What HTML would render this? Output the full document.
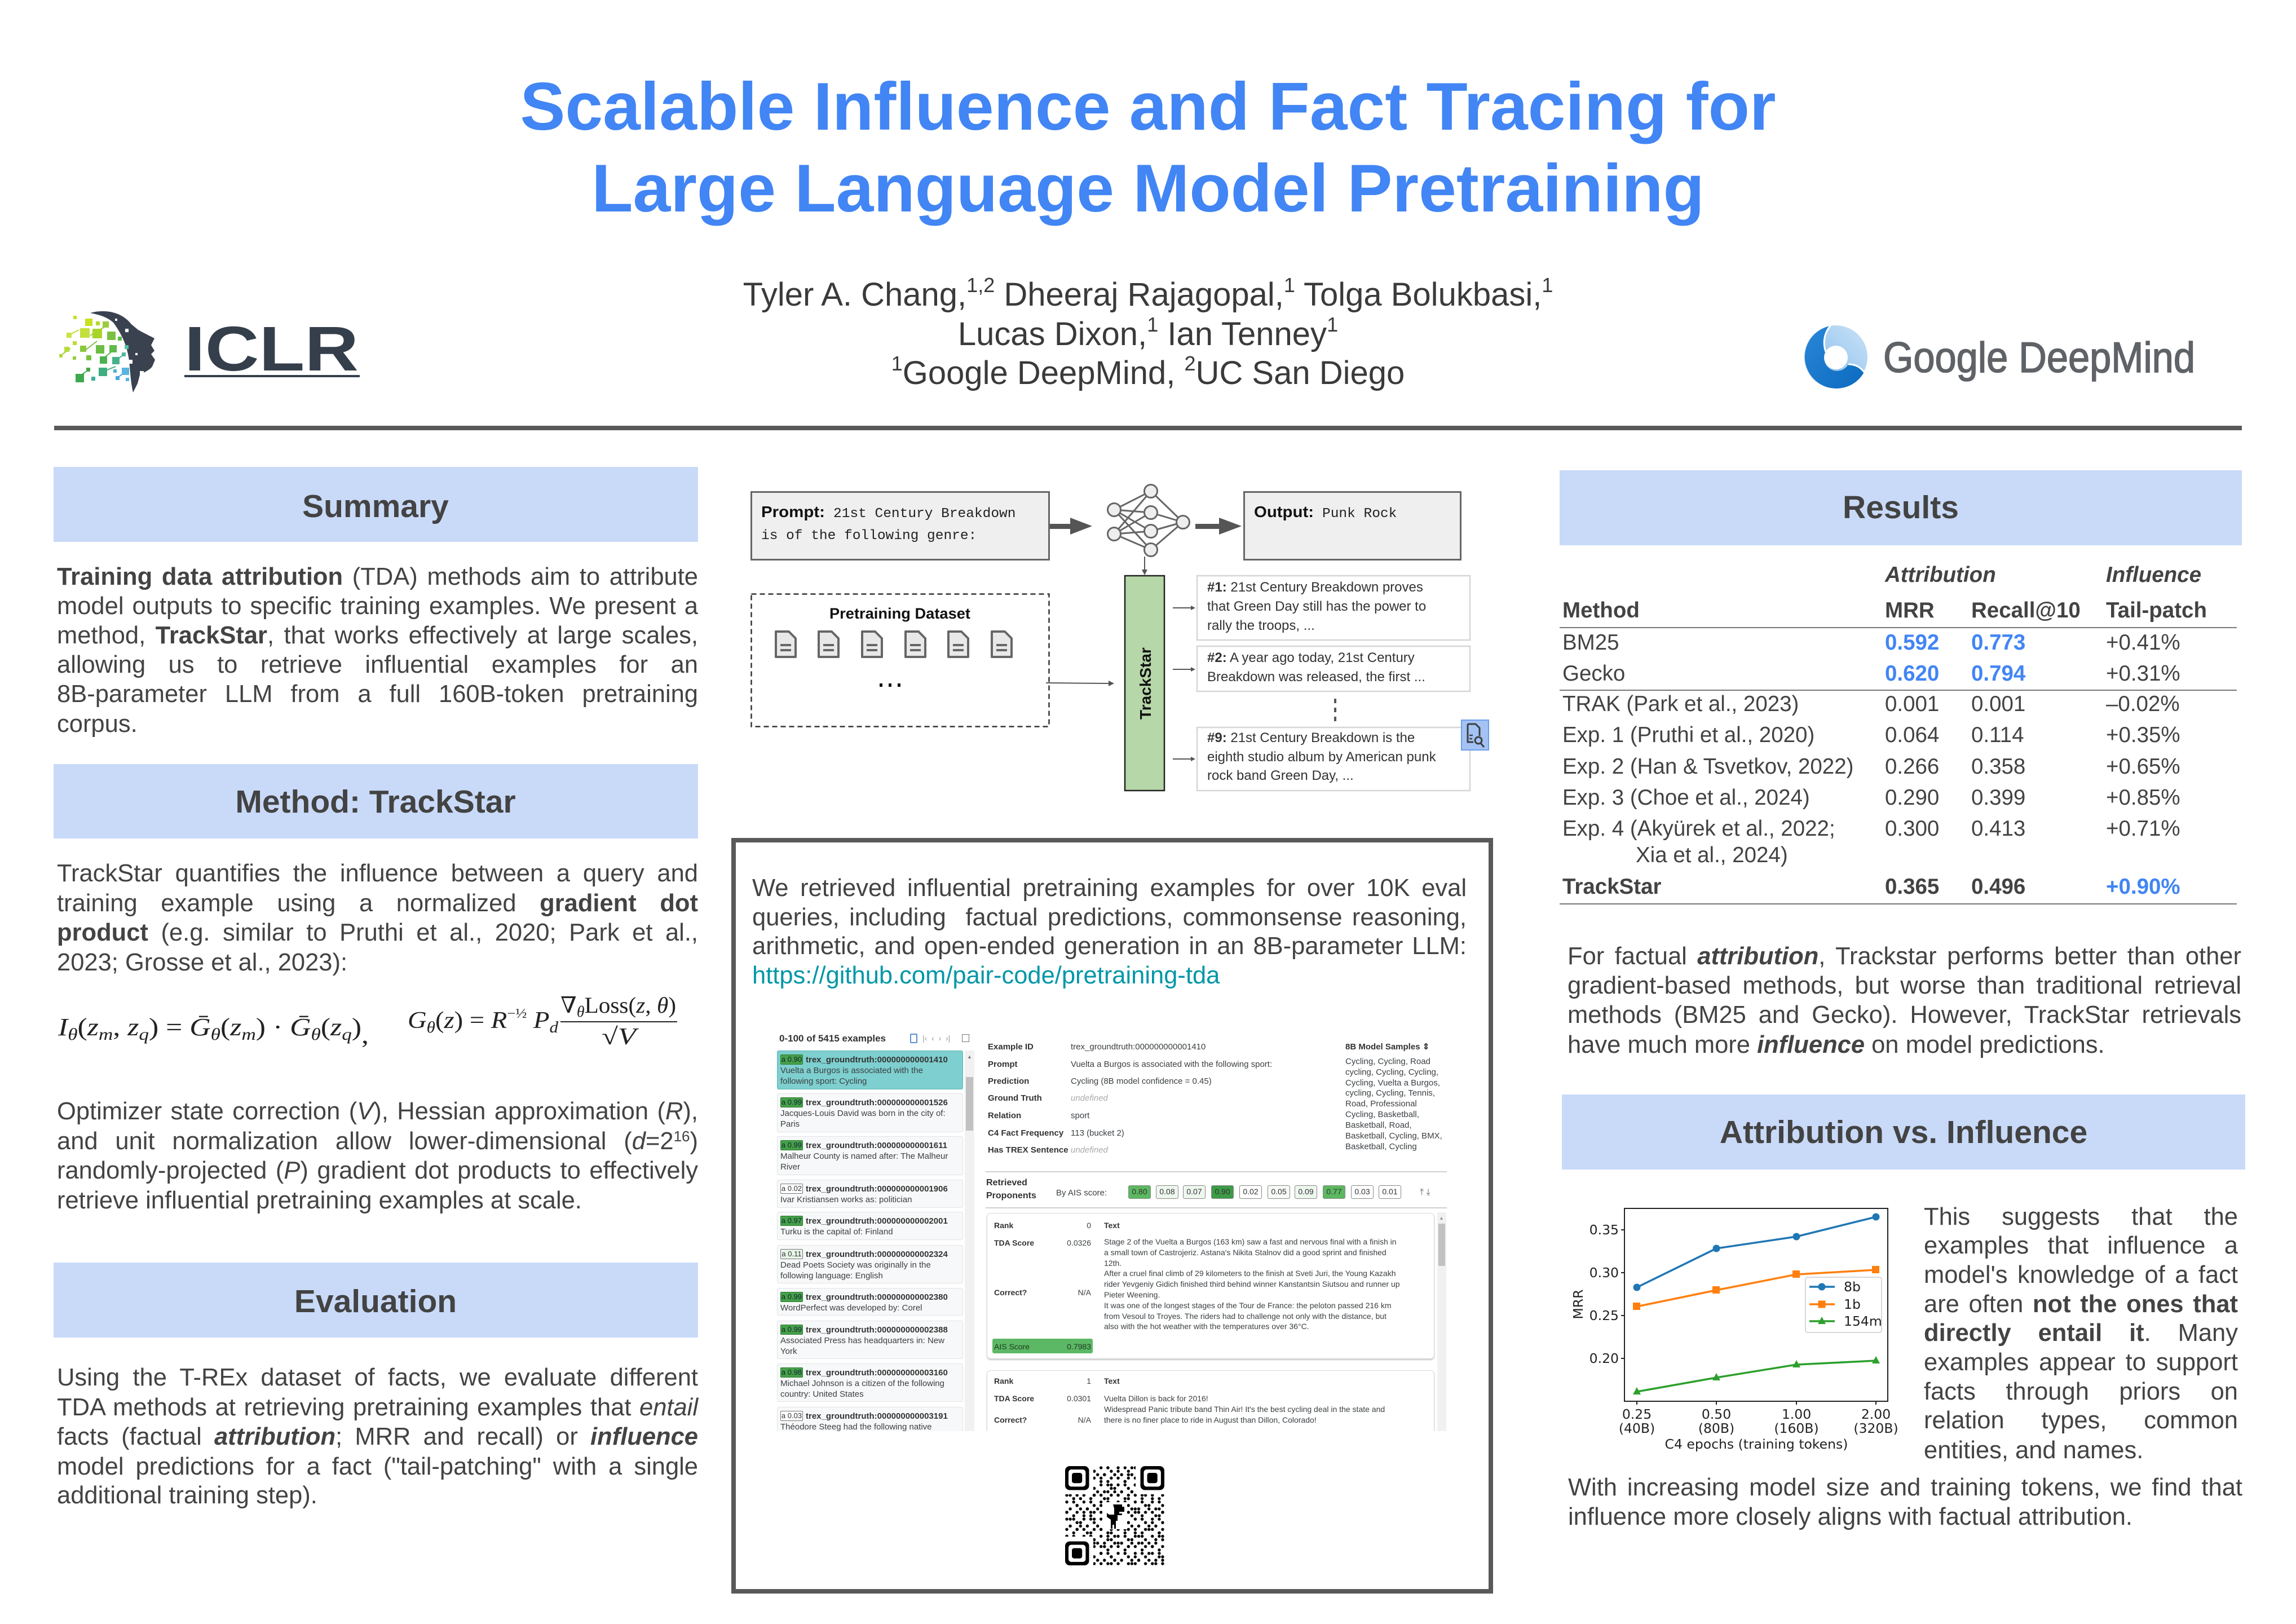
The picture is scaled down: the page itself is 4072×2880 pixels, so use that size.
<!DOCTYPE html>
<html><head><meta charset="utf-8"><title>Scalable Influence and Fact Tracing</title>
<style>
*{margin:0;padding:0;box-sizing:border-box}
html,body{width:4072px;height:2880px;background:#fff;overflow:hidden}
body{position:relative;font-family:"Liberation Sans",Arial,sans-serif;color:#434343}
svg.full{position:absolute;left:0;top:0}
.L{position:absolute;font-size:43.5px;line-height:43.5px;height:44px;text-align:justify;text-align-last:justify;color:#434343}
.N{text-align:left;text-align-last:left;white-space:nowrap}
.ss{position:absolute;left:1378px;top:1827px;width:1188px;height:711px;overflow:hidden;background:#fff;color:#3c4043;font-size:15px;line-height:15px}
.ss div{position:absolute;white-space:nowrap}
.it{left:0;width:330px;background:#f7f8f9;border:1.5px solid #e1e3e6;border-radius:3px}
.sel{background:#7ecfcf;border-color:#5ab5b5}
.ch{left:5px;top:6px;height:18px;width:40px;font-size:13px;line-height:16px;text-align:center;border:1px solid #777;border-radius:2px}
.g{background:#45a049;color:#123;border-color:#2f7d33}
.w{background:#fff;color:#333}
.lg{background:#e6f4e7;color:#333}
.ti{left:50px;top:8px;font-weight:bold;color:#333}
.tx{left:5px}
.lb{font-weight:bold;color:#333}
.card{background:#fff;border:1.5px solid #d5d7da;border-radius:7px;box-shadow:0 2px 2px #ccc}
.ct{font-size:14px;line-height:14px}
.chip{top:275px;width:40px;height:24px;border:1.5px solid #888;border-radius:3px;font-size:14px;line-height:21px;text-align:center;color:#333}
</style></head><body>

<svg class="full" width="4072" height="2880" viewBox="0 0 4072 2880" xmlns="http://www.w3.org/2000/svg">
<defs>
<linearGradient id="dmL" x1="0" y1="1" x2="1" y2="0"><stop offset="0" stop-color="#7fb6e8"/><stop offset="1" stop-color="#c9e3f8"/></linearGradient>
<linearGradient id="dmD" x1="0" y1="0" x2="1" y2="1"><stop offset="0" stop-color="#2a86d8"/><stop offset="1" stop-color="#0b6bbf"/></linearGradient>
<pattern id="qa" x="1889" y="2600" width="30.35" height="30.35" patternUnits="userSpaceOnUse">
<circle cx="3" cy="3" r="2.7"/><circle cx="15.2" cy="3" r="2.7"/><circle cx="21.2" cy="9.1" r="2.7"/><circle cx="9.1" cy="15.2" r="2.7"/><circle cx="27.3" cy="15.2" r="2.7"/><circle cx="3" cy="21.2" r="2.7"/><circle cx="21.2" cy="21.2" r="2.7"/><circle cx="15.2" cy="27.3" r="2.7"/>
</pattern>
<pattern id="qb" x="1889" y="2600" width="42.49" height="42.49" patternUnits="userSpaceOnUse">
<circle cx="9.1" cy="9.1" r="2.7"/><circle cx="33.4" cy="3" r="2.7"/><circle cx="21.2" cy="27.3" r="2.7"/><circle cx="39.4" cy="33.4" r="2.7"/><circle cx="3" cy="39.4" r="2.7"/><circle cx="27.3" cy="15.2" r="2.7"/>
</pattern>
</defs>

<!-- Title -->
<g font-family="Liberation Sans, Arial, sans-serif" font-weight="bold" font-size="120" fill="#4285f4" text-anchor="middle">
<text x="2036" y="230">Scalable Influence and Fact Tracing for</text>
<text x="2036" y="375">Large Language Model Pretraining</text>
</g>

<!-- Authors -->
<g font-family="Liberation Sans, Arial, sans-serif" font-size="58" fill="#3a3a3a" text-anchor="middle">
<text x="2036" y="542">Tyler A. Chang,<tspan dy="-24" font-size="36">1,2</tspan><tspan dy="24"> Dheeraj Rajagopal,</tspan><tspan dy="-24" font-size="36">1</tspan><tspan dy="24"> Tolga Bolukbasi,</tspan><tspan dy="-24" font-size="36">1</tspan></text>
<text x="2036" y="612">Lucas Dixon,<tspan dy="-24" font-size="36">1</tspan><tspan dy="24"> Ian Tenney</tspan><tspan dy="-24" font-size="36">1</tspan></text>
<text x="2036" y="681"><tspan dy="-24" font-size="36">1</tspan><tspan dy="24">Google DeepMind, </tspan><tspan dy="-24" font-size="36">2</tspan><tspan dy="24">UC San Diego</tspan></text>
</g>

<!-- ICLR logo -->
<path d="M160,555 C185,548 215,552 233,575 L245,585 C258,592 268,597 274,600 L268,612 L274,622 L268,628 L275,638 L270,650 C265,657 255,660 248,665 L244,680 L236,696 C232,680 231,660 229,640 C226,615 217,594 201,572 C190,562 175,558 160,555 Z" fill="#3a4250"/>
<g fill="#fff"><rect x="204" y="565" width="4" height="4"/><rect x="222" y="583" width="6" height="6"/><rect x="240" y="626" width="4" height="4"/><rect x="228" y="638" width="7" height="7"/><rect x="248" y="658" width="7" height="7"/></g>
<g stroke-width="2">
<line x1="118" y1="596" x2="140" y2="585" stroke="#bcdc2e"/><line x1="160" y1="595" x2="185" y2="580" stroke="#9ccc3c"/>
<line x1="108" y1="630" x2="125" y2="618" stroke="#a6d23a"/><line x1="150" y1="622" x2="172" y2="605" stroke="#7cc043"/>
<line x1="180" y1="638" x2="200" y2="622" stroke="#5cb848"/><line x1="205" y1="640" x2="220" y2="628" stroke="#4fb58a"/>
<line x1="140" y1="668" x2="158" y2="655" stroke="#3da94f"/><line x1="180" y1="660" x2="205" y2="650" stroke="#3fae7f"/><line x1="208" y1="670" x2="222" y2="660" stroke="#4aa6dc"/>
</g>
<g>
<rect x="130" y="560" width="6" height="6" fill="#c4de2e"/><rect x="151" y="565" width="13" height="13" fill="#c8e020"/>
<rect x="170" y="570" width="7" height="7" fill="#b4d82a"/><rect x="182" y="570" width="11" height="11" fill="#9ccc3c"/>
<rect x="142" y="582" width="17" height="17" fill="#c2e03a"/><rect x="164" y="583" width="17" height="17" fill="#a8d42a"/>
<rect x="190" y="588" width="15" height="15" fill="#7cc043"/><rect x="118" y="590" width="9" height="9" fill="#c9e43c"/>
<rect x="209" y="597" width="7" height="7" fill="#5cb848"/><rect x="129" y="605" width="7" height="7" fill="#bcdc3a"/>
<rect x="142" y="613" width="11" height="11" fill="#8cc63f"/><rect x="170" y="612" width="15" height="15" fill="#6bbd45"/>
<rect x="194" y="612" width="13" height="13" fill="#5fb94a"/><rect x="221" y="612" width="7" height="7" fill="#56c0a0"/>
<rect x="114" y="615" width="9" height="9" fill="#b6db3c"/><rect x="105" y="628" width="6" height="6" fill="#b0d83a"/>
<rect x="153" y="630" width="9" height="9" fill="#7cc242"/><rect x="177" y="632" width="13" height="13" fill="#4caf50"/>
<rect x="199" y="633" width="13" height="13" fill="#45b28a"/><rect x="216" y="625" width="7" height="7" fill="#52b6a4"/>
<rect x="129" y="632" width="6" height="6" fill="#98cc3e"/><rect x="153" y="652" width="7" height="7" fill="#4aa84a"/>
<rect x="134" y="663" width="15" height="15" fill="#3da94f"/><rect x="175" y="652" width="15" height="15" fill="#3fae7f"/>
<rect x="201" y="655" width="6" height="6" fill="#4fb3c9"/><rect x="216" y="652" width="13" height="13" fill="#5ab4e0"/>
<rect x="162" y="668" width="7" height="7" fill="#3ab09b"/><rect x="205" y="667" width="7" height="7" fill="#4aa6dc"/>
<rect x="223" y="670" width="6" height="6" fill="#5ab4e0"/>
</g>
<text x="327" y="657" font-family="Liberation Sans, Arial, sans-serif" font-weight="bold" font-size="112" fill="#353f4c" textLength="309" lengthAdjust="spacingAndGlyphs">ICLR</text>
<rect x="327" y="665" width="311" height="4" fill="#353f4c"/>

<!-- DeepMind logo -->
<circle cx="3256" cy="633" r="56" fill="url(#dmL)"/>
<path d="M3246,578 A56,56 0 1,0 3306,660 C3300,652 3292,646 3278,646 A21,21 0 0,1 3238,624 C3232,606 3236,590 3246,578 Z" fill="url(#dmD)"/>
<circle cx="3256" cy="634" r="21" fill="#fff"/>
<path d="M3246,578 C3236,590 3232,606 3238,624" stroke="#fff" stroke-width="3" fill="none"/>
<path d="M3278,646 C3292,646 3300,652 3306,660" stroke="#fff" stroke-width="3" fill="none"/>
<text x="3340" y="660" font-family="Liberation Sans, Arial, sans-serif" font-size="76" fill="#5f6266" stroke="#5f6266" stroke-width="1.6" textLength="553" lengthAdjust="spacingAndGlyphs">Google DeepMind</text>

<!-- rule -->
<rect x="96" y="755" width="3880" height="8" fill="#595959"/>

<!-- section header boxes -->
<g fill="#c9daf8">
<rect x="95" y="828" width="1143" height="133"/>
<rect x="95" y="1355" width="1143" height="132"/>
<rect x="95" y="2239" width="1143" height="133"/>
<rect x="2766" y="834" width="1210" height="133"/>
<rect x="2770" y="1941" width="1212" height="133"/>
</g>
<g font-family="Liberation Sans, Arial, sans-serif" font-weight="bold" font-size="57" fill="#434343" text-anchor="middle">
<text x="666" y="917">Summary</text>
<text x="666" y="1441">Method: TrackStar</text>
<text x="666" y="2327">Evaluation</text>
<text x="3371" y="919">Results</text>
<text x="3376" y="2027">Attribution vs. Influence</text>
</g>

<!-- Equations -->
<g font-family="Liberation Serif, DejaVu Serif, serif" fill="#222">
<text x="103" y="1836" font-size="44" font-style="italic" textLength="551" lengthAdjust="spacingAndGlyphs">I<tspan font-size="30" dy="8">θ</tspan><tspan dy="-8" font-style="normal">(</tspan>z<tspan font-size="30" dy="8">m</tspan><tspan dy="-8" font-style="normal">, </tspan>z<tspan font-size="30" dy="8">q</tspan><tspan dy="-8" font-style="normal">) = </tspan>Ḡ<tspan font-size="30" dy="8">θ</tspan><tspan dy="-8" font-style="normal">(</tspan>z<tspan font-size="30" dy="8">m</tspan><tspan dy="-8" font-style="normal">) · </tspan>Ḡ<tspan font-size="30" dy="8">θ</tspan><tspan dy="-8" font-style="normal">(</tspan>z<tspan font-size="30" dy="8">q</tspan><tspan dy="-8" font-style="normal">)</tspan><tspan font-style="normal" dy="14">,</tspan></text>
<text x="723" y="1823" font-size="42" font-style="italic" textLength="267" lengthAdjust="spacingAndGlyphs">G<tspan font-size="28" dy="8">θ</tspan><tspan dy="-8" font-style="normal">(</tspan>z<tspan font-style="normal">) = </tspan>R<tspan font-size="24" dy="-18" font-style="normal">−½</tspan><tspan dy="18"> P</tspan><tspan font-size="28" dy="8">d</tspan></text>
<text x="994" y="1796" font-size="40" textLength="205" lengthAdjust="spacingAndGlyphs">∇<tspan font-size="27" dy="7" font-style="italic">θ</tspan><tspan dy="-7">Loss(</tspan><tspan font-style="italic">z</tspan>, <tspan font-style="italic">θ</tspan>)</text>
<line x1="994" y1="1812" x2="1201" y2="1812" stroke="#222" stroke-width="2"/>
<text x="1067" y="1852" font-size="42" textLength="61" lengthAdjust="spacingAndGlyphs">√<tspan font-style="italic">V</tspan></text>
</g>

<!-- Diagram -->
<rect x="1332.5" y="872.5" width="528" height="120" fill="#efefef" stroke="#666" stroke-width="3"/>
<rect x="2206.5" y="872.5" width="384" height="120" fill="#efefef" stroke="#666" stroke-width="3"/>
<text x="1350" y="917" font-family="Liberation Sans, Arial, sans-serif" font-weight="bold" font-size="28" fill="#111" textLength="113" lengthAdjust="spacingAndGlyphs">Prompt:</text>
<text x="2224" y="917" font-family="Liberation Sans, Arial, sans-serif" font-weight="bold" font-size="28" fill="#111" textLength="106" lengthAdjust="spacingAndGlyphs">Output:</text>
<g font-family="Liberation Mono, monospace" font-size="24.5" fill="#222">
<text x="1478" y="917">21st Century Breakdown</text>
<text x="1350" y="956">is of the following genre:</text>
<text x="2345" y="917">Punk Rock</text>
</g>
<g fill="#555">
<rect x="1862" y="929" width="38" height="9"/><polygon points="1898,918 1937,933 1898,948"/>
<rect x="2120" y="929" width="44" height="9"/><polygon points="2162,918 2202,933 2162,948"/>
</g>
<g stroke="#666" stroke-width="3">
<line x1="1976" y1="904" x2="2041" y2="871"/><line x1="1976" y1="904" x2="2041" y2="909"/><line x1="1976" y1="904" x2="2041" y2="942"/><line x1="1976" y1="904" x2="2041" y2="975"/>
<line x1="1976" y1="947" x2="2041" y2="871"/><line x1="1976" y1="947" x2="2041" y2="909"/><line x1="1976" y1="947" x2="2041" y2="942"/><line x1="1976" y1="947" x2="2041" y2="975"/>
<line x1="2041" y1="871" x2="2098" y2="926"/><line x1="2041" y1="909" x2="2098" y2="926"/><line x1="2041" y1="942" x2="2098" y2="926"/><line x1="2041" y1="975" x2="2098" y2="926"/>
</g>
<g fill="#eee" stroke="#666" stroke-width="3">
<circle cx="1976" cy="904" r="11.5"/><circle cx="1976" cy="947" r="11.5"/>
<circle cx="2041" cy="871" r="11.5"/><circle cx="2041" cy="909" r="11.5"/><circle cx="2041" cy="942" r="11.5"/><circle cx="2041" cy="975" r="11.5"/>
<circle cx="2098" cy="926" r="11.5"/>
</g>
<line x1="2030" y1="987" x2="2030" y2="1012" stroke="#555" stroke-width="2"/><polygon points="2025,1010 2035,1010 2030,1020" fill="#555"/>
<rect x="1995" y="1021" width="70" height="381" fill="#b6d7a8" stroke="#222" stroke-width="2.5"/>
<text transform="translate(2041,1212) rotate(-90)" text-anchor="middle" font-family="Liberation Sans, Arial, sans-serif" font-weight="bold" font-size="28" fill="#111">TrackStar</text>
<rect x="1332.5" y="1053.5" width="528" height="235" fill="none" stroke="#333" stroke-width="2.5" stroke-dasharray="9 6"/>
<text x="1471" y="1097" font-family="Liberation Sans, Arial, sans-serif" font-weight="bold" font-size="27" fill="#111" textLength="250" lengthAdjust="spacingAndGlyphs">Pretraining Dataset</text>
<g fill="#e8e8e8" stroke="#666" stroke-width="4" stroke-linejoin="round">
<path d="M1376,1120 h23 l12,12 v33 h-35 z"/><path d="M1452,1120 h23 l12,12 v33 h-35 z"/><path d="M1529,1120 h23 l12,12 v33 h-35 z"/>
<path d="M1606,1120 h23 l12,12 v33 h-35 z"/><path d="M1682,1120 h23 l12,12 v33 h-35 z"/><path d="M1759,1120 h23 l12,12 v33 h-35 z"/>
</g>
<g fill="#666">
<rect x="1384" y="1142" width="19" height="4"/><rect x="1384" y="1151" width="19" height="4"/>
<rect x="1460" y="1142" width="19" height="4"/><rect x="1460" y="1151" width="19" height="4"/>
<rect x="1537" y="1142" width="19" height="4"/><rect x="1537" y="1151" width="19" height="4"/>
<rect x="1614" y="1142" width="19" height="4"/><rect x="1614" y="1151" width="19" height="4"/>
<rect x="1690" y="1142" width="19" height="4"/><rect x="1690" y="1151" width="19" height="4"/>
<rect x="1767" y="1142" width="19" height="4"/><rect x="1767" y="1151" width="19" height="4"/>
<rect x="1560" y="1212" width="5" height="6" fill="#111"/><rect x="1576" y="1212" width="5" height="6" fill="#111"/><rect x="1592" y="1212" width="5" height="6" fill="#111"/>
</g>
<line x1="1855" y1="1211" x2="1968" y2="1212" stroke="#555" stroke-width="2"/><polygon points="1966,1207 1976,1212 1966,1217" fill="#555"/>
<g fill="#fff" stroke="#d6d6d6" stroke-width="2.5">
<rect x="2123" y="1021" width="484" height="114"/>
<rect x="2123" y="1146" width="484" height="80"/>
<rect x="2123" y="1290" width="484" height="112"/>
</g>
<g font-family="Liberation Sans, Arial, sans-serif" font-size="24" fill="#333">
<text x="2141" y="1049"><tspan font-weight="bold">#1:</tspan> 21st Century Breakdown proves</text>
<text x="2141" y="1083">that Green Day still has the power to</text>
<text x="2141" y="1117">rally the troops, ...</text>
<text x="2141" y="1174"><tspan font-weight="bold">#2:</tspan> A year ago today, 21st Century</text>
<text x="2141" y="1208">Breakdown was released, the first ...</text>
<text x="2141" y="1316"><tspan font-weight="bold">#9:</tspan> 21st Century Breakdown is the</text>
<text x="2141" y="1350">eighth studio album by American punk</text>
<text x="2141" y="1383">rock band Green Day, ...</text>
</g>
<g stroke="#555" stroke-width="2">
<line x1="2080" y1="1078" x2="2114" y2="1078"/><line x1="2080" y1="1187" x2="2114" y2="1187"/><line x1="2080" y1="1346" x2="2114" y2="1346"/>
</g>
<g fill="#555">
<polygon points="2112,1074 2120,1078 2112,1082"/><polygon points="2112,1183 2120,1187 2112,1191"/><polygon points="2112,1342 2120,1346 2112,1350"/>
<rect x="2366" y="1239" width="4" height="8"/><rect x="2366" y="1255" width="4" height="8"/><rect x="2366" y="1271" width="4" height="8"/>
</g>
<rect x="2592" y="1277" width="48" height="53" fill="#a4c2f4" stroke="#6d9eeb" stroke-width="2"/>
<path d="M2603,1284 h14 l7,7 v14 M2603,1284 v32 h10" stroke="#3c4043" stroke-width="3" fill="none"/>
<path d="M2606,1304 h6 M2606,1310 h5" stroke="#3c4043" stroke-width="2.5"/>
<circle cx="2622" cy="1313" r="6" fill="none" stroke="#3c4043" stroke-width="3"/><line x1="2626" y1="1318" x2="2632" y2="1325" stroke="#3c4043" stroke-width="3"/>

<!-- middle box -->
<rect x="1301" y="1490" width="1343" height="1332" fill="none" stroke="#595959" stroke-width="8"/>

<!-- QR -->
<rect x="1889" y="2600" width="176" height="176" fill="url(#qa)"/>
<rect x="1889" y="2600" width="176" height="176" fill="url(#qb)"/>
<g fill="#fff"><rect x="1887" y="2598" width="52" height="52"/><rect x="2014" y="2598" width="53" height="52"/><rect x="1887" y="2725" width="52" height="53"/><rect x="1955" y="2664" width="44" height="48"/></g>
<g>
<rect x="1889" y="2600" width="42.5" height="42.5" rx="8"/><rect x="1895" y="2606" width="30.4" height="30.4" rx="5" fill="#fff"/><rect x="1901" y="2612" width="18.2" height="18.2" rx="4"/>
<rect x="2022.5" y="2600" width="42.5" height="42.5" rx="8"/><rect x="2028.5" y="2606" width="30.4" height="30.4" rx="5" fill="#fff"/><rect x="2034.5" y="2612" width="18.2" height="18.2" rx="4"/>
<rect x="1889" y="2733.5" width="42.5" height="42.5" rx="8"/><rect x="1895" y="2739.5" width="30.4" height="30.4" rx="5" fill="#fff"/><rect x="1901" y="2745.5" width="18.2" height="18.2" rx="4"/>
<path d="M1974,2668 h16 v4 h4 v9 h-9 v3 h5 v3 h-8 v10 h-3 v14 h-3 v-7 h-3 v7 h-3 v-16 l-7,-5 v-7 l4,3 h9 v-11 z"/>
</g>

<!-- Results table -->
<g font-family="Liberation Sans, Arial, sans-serif" font-size="38.5" fill="#434343">
<text x="3343" y="1032" font-weight="bold" font-style="italic">Attribution</text>
<text x="3735" y="1032" font-weight="bold" font-style="italic">Influence</text>
<g font-weight="bold"><text x="2771" y="1095">Method</text><text x="3343" y="1095">MRR</text><text x="3496" y="1095">Recall@10</text><text x="3735" y="1095">Tail-patch</text></g>
<text x="2771" y="1152">BM25</text><text x="3343" y="1152" fill="#4285f4" font-weight="bold">0.592</text><text x="3496" y="1152" fill="#4285f4" font-weight="bold">0.773</text><text x="3735" y="1152">+0.41%</text>
<text x="2771" y="1207">Gecko</text><text x="3343" y="1207" fill="#4285f4" font-weight="bold">0.620</text><text x="3496" y="1207" fill="#4285f4" font-weight="bold">0.794</text><text x="3735" y="1207">+0.31%</text>
<text x="2771" y="1261">TRAK (Park et al., 2023)</text><text x="3343" y="1261">0.001</text><text x="3496" y="1261">0.001</text><text x="3735" y="1261">–0.02%</text>
<text x="2771" y="1316">Exp. 1 (Pruthi et al., 2020)</text><text x="3343" y="1316">0.064</text><text x="3496" y="1316">0.114</text><text x="3735" y="1316">+0.35%</text>
<text x="2771" y="1372">Exp. 2 (Han &amp; Tsvetkov, 2022)</text><text x="3343" y="1372">0.266</text><text x="3496" y="1372">0.358</text><text x="3735" y="1372">+0.65%</text>
<text x="2771" y="1427">Exp. 3 (Choe et al., 2024)</text><text x="3343" y="1427">0.290</text><text x="3496" y="1427">0.399</text><text x="3735" y="1427">+0.85%</text>
<text x="2771" y="1482">Exp. 4 (Akyürek et al., 2022;</text><text x="3343" y="1482">0.300</text><text x="3496" y="1482">0.413</text><text x="3735" y="1482">+0.71%</text>
<text x="2901" y="1529">Xia et al., 2024)</text>
<g font-weight="bold"><text x="2771" y="1585">TrackStar</text><text x="3343" y="1585">0.365</text><text x="3496" y="1585">0.496</text><text x="3735" y="1585" fill="#4285f4">+0.90%</text></g>
</g>
<g fill="#777"><rect x="2766" y="1112" width="1201" height="2"/><rect x="2766" y="1223" width="1201" height="2"/><rect x="2766" y="1602" width="1201" height="2"/></g>

<!-- Chart -->
<g font-family="DejaVu Sans, Liberation Sans, sans-serif" font-size="23.5" fill="#222">
<rect x="2881" y="2143" width="467" height="342" fill="none" stroke="#222" stroke-width="2"/>
<g stroke="#222" stroke-width="2">
<line x1="2875" y1="2181" x2="2881" y2="2181"/><line x1="2875" y1="2257" x2="2881" y2="2257"/><line x1="2875" y1="2333" x2="2881" y2="2333"/><line x1="2875" y1="2409" x2="2881" y2="2409"/>
<line x1="2903" y1="2485" x2="2903" y2="2491"/><line x1="3044" y1="2485" x2="3044" y2="2491"/><line x1="3186" y1="2485" x2="3186" y2="2491"/><line x1="3327" y1="2485" x2="3327" y2="2491"/>
</g>
<g text-anchor="end"><text x="2871" y="2189">0.35</text><text x="2871" y="2265">0.30</text><text x="2871" y="2341">0.25</text><text x="2871" y="2417">0.20</text></g>
<g text-anchor="middle">
<text x="2903" y="2516">0.25</text><text x="2903" y="2541">(40B)</text>
<text x="3044" y="2516">0.50</text><text x="3044" y="2541">(80B)</text>
<text x="3186" y="2516">1.00</text><text x="3186" y="2541">(160B)</text>
<text x="3327" y="2516">2.00</text><text x="3327" y="2541">(320B)</text>
<text x="3115" y="2569">C4 epochs (training tokens)</text>
</g>
<text transform="translate(2807,2313) rotate(-90)" text-anchor="middle">MRR</text>
<polyline points="2903,2283 3044,2214 3186,2193 3327,2158" fill="none" stroke="#1f77b4" stroke-width="3.5"/>
<polyline points="2903,2317 3044,2288 3186,2260 3327,2252" fill="none" stroke="#ff7f0e" stroke-width="3.5"/>
<polyline points="2903,2468 3044,2443 3186,2420 3327,2413" fill="none" stroke="#2ca02c" stroke-width="3.5"/>
<g fill="#1f77b4"><circle cx="2903" cy="2283" r="6.5"/><circle cx="3044" cy="2214" r="6.5"/><circle cx="3186" cy="2193" r="6.5"/><circle cx="3327" cy="2158" r="6.5"/></g>
<g fill="#ff7f0e"><rect x="2896" y="2310" width="13" height="13"/><rect x="3037" y="2281" width="13" height="13"/><rect x="3179" y="2253" width="13" height="13"/><rect x="3320" y="2245" width="13" height="13"/></g>
<g fill="#2ca02c"><polygon points="2903,2460 2910,2473 2896,2473"/><polygon points="3044,2435 3051,2448 3037,2448"/><polygon points="3186,2412 3193,2425 3179,2425"/><polygon points="3327,2405 3334,2418 3320,2418"/></g>
<rect x="3202" y="2265" width="135" height="98" rx="4" fill="#fff" fill-opacity="0.85" stroke="#ccc" stroke-width="1.5"/>
<line x1="3209" y1="2282" x2="3254" y2="2282" stroke="#1f77b4" stroke-width="3.5"/><circle cx="3231" cy="2282" r="6.5" fill="#1f77b4"/>
<line x1="3209" y1="2313" x2="3254" y2="2313" stroke="#ff7f0e" stroke-width="3.5"/><rect x="3224.5" y="2306.5" width="13" height="13" fill="#ff7f0e"/>
<line x1="3209" y1="2343" x2="3254" y2="2343" stroke="#2ca02c" stroke-width="3.5"/><polygon points="3231,2335 3238,2348 3224,2348" fill="#2ca02c"/>
<text x="3270" y="2290">8b</text><text x="3270" y="2321">1b</text><text x="3270" y="2351">154m</text>
</g>
</svg>

<!-- Summary -->
<div class="L" style="left:101px;width:1137px;top:1002px"><b>Training data attribution</b> (TDA) methods aim to attribute</div>
<div class="L" style="left:101px;width:1137px;top:1054px">model outputs to specific training examples. We present a</div>
<div class="L" style="left:101px;width:1137px;top:1106px">method, <b>TrackStar</b>, that works effectively at large scales,</div>
<div class="L" style="left:101px;width:1137px;top:1158px">allowing us to retrieve influential examples for an</div>
<div class="L" style="left:101px;width:1137px;top:1210px">8B-parameter LLM from a full 160B-token pretraining</div>
<div class="L N" style="left:101px;top:1263px">corpus.</div>

<!-- Method -->
<div class="L" style="left:101px;width:1137px;top:1528px">TrackStar quantifies the influence between a query and</div>
<div class="L" style="left:101px;width:1137px;top:1581px">training example using a normalized <b>gradient dot</b></div>
<div class="L" style="left:101px;width:1137px;top:1633px"><b>product</b> (e.g. similar to Pruthi et al., 2020; Park et al.,</div>
<div class="L N" style="left:101px;top:1686px">2023; Grosse et al., 2023):</div>

<div class="L" style="left:101px;width:1137px;top:1950px">Optimizer state correction (<i>V</i>), Hessian approximation (<i>R</i>),</div>
<div class="L" style="left:101px;width:1137px;top:2003px">and unit normalization allow lower-dimensional (<i>d</i>=2<sup style="font-size:26px;line-height:0;vertical-align:14px">16</sup>)</div>
<div class="L" style="left:101px;width:1137px;top:2055px">randomly-projected (<i>P</i>) gradient dot products to effectively</div>
<div class="L N" style="left:101px;top:2108px">retrieve influential pretraining examples at scale.</div>

<!-- Evaluation -->
<div class="L" style="left:101px;width:1137px;top:2422px">Using the T-REx dataset of facts, we evaluate different</div>
<div class="L" style="left:101px;width:1137px;top:2475px">TDA methods at retrieving pretraining examples that <i>entail</i></div>
<div class="L" style="left:101px;width:1137px;top:2527px">facts (factual <b><i>attribution</i></b>; MRR and recall) or <b><i>influence</i></b></div>
<div class="L" style="left:101px;width:1137px;top:2580px">model predictions for a fact ("tail-patching" with a single</div>
<div class="L N" style="left:101px;top:2631px">additional training step).</div>

<!-- Middle text -->
<div class="L" style="left:1334px;width:1267px;top:1554px">We retrieved influential pretraining examples for over 10K eval</div>
<div class="L" style="left:1334px;width:1267px;top:1606px">queries, including&nbsp; factual predictions, commonsense reasoning,</div>
<div class="L" style="left:1334px;width:1267px;top:1657px">arithmetic, and open-ended generation in an 8B-parameter LLM:</div>
<div class="L N" style="left:1334px;top:1709px;color:#0097a7">https://github.com/pair-code/pretraining-tda</div>

<!-- Right text -->
<div class="L" style="left:2780px;width:1195px;top:1675px">For factual <b><i>attribution</i></b>, Trackstar performs better than other</div>
<div class="L" style="left:2780px;width:1195px;top:1727px">gradient-based methods, but worse than traditional retrieval</div>
<div class="L" style="left:2780px;width:1195px;top:1779px">methods (BM25 and Gecko). However, TrackStar retrievals</div>
<div class="L N" style="left:2780px;top:1832px">have much more <b><i>influence</i></b> on model predictions.</div>

<div class="L" style="left:3412px;width:557px;top:2137px">This suggests that the</div>
<div class="L" style="left:3412px;width:557px;top:2188px">examples that influence a</div>
<div class="L" style="left:3412px;width:557px;top:2240px">model's knowledge of a fact</div>
<div class="L" style="left:3412px;width:557px;top:2292px">are often <b>not the ones that</b></div>
<div class="L" style="left:3412px;width:557px;top:2343px"><b>directly entail it</b>. Many</div>
<div class="L" style="left:3412px;width:557px;top:2395px">examples appear to support</div>
<div class="L" style="left:3412px;width:557px;top:2447px">facts through priors on</div>
<div class="L" style="left:3412px;width:557px;top:2498px">relation types, common</div>
<div class="L N" style="left:3412px;top:2551px">entities, and names.</div>

<div class="L" style="left:2781px;width:1196px;top:2617px">With increasing model size and training tokens, we find that</div>
<div class="L N" style="left:2781px;top:2669px">influence more closely aligns with factual attribution.</div>

<!-- Screenshot -->
<div class="ss">
<div style="left:4px;top:6px;font-size:17px;line-height:17px;font-weight:bold;color:#333">0-100 of 5415 examples</div>
<div style="left:236px;top:6px;width:13px;height:17px;border:2px solid #5b8fd6;border-radius:2px"></div>
<div style="left:258px;top:7px;color:#999;font-size:14px">|‹ &nbsp;‹ &nbsp;› &nbsp;›|</div>
<div style="left:328px;top:7px;width:13px;height:14px;border:1.5px solid #777"></div>

<div class="it sel" style="top:36px;height:69px"><div class="ch g">a 0.90</div><div class="ti">trex_groundtruth:000000000001410</div><div class="tx" style="top:27px">Vuelta a Burgos is associated with the</div><div class="tx" style="top:46px">following sport: Cycling</div></div>
<div class="it" style="top:112px;height:69px"><div class="ch g">a 0.99</div><div class="ti">trex_groundtruth:000000000001526</div><div class="tx" style="top:27px">Jacques-Louis David was born in the city of:</div><div class="tx" style="top:46px">Paris</div></div>
<div class="it" style="top:188px;height:69px"><div class="ch g">a 0.99</div><div class="ti">trex_groundtruth:000000000001611</div><div class="tx" style="top:27px">Malheur County is named after: The Malheur</div><div class="tx" style="top:46px">River</div></div>
<div class="it" style="top:265px;height:50px"><div class="ch w">a 0.02</div><div class="ti">trex_groundtruth:000000000001906</div><div class="tx" style="top:27px">Ivar Kristiansen works as: politician</div></div>
<div class="it" style="top:322px;height:50px"><div class="ch g">a 0.97</div><div class="ti">trex_groundtruth:000000000002001</div><div class="tx" style="top:27px">Turku is the capital of: Finland</div></div>
<div class="it" style="top:381px;height:68px"><div class="ch lg">a 0.11</div><div class="ti">trex_groundtruth:000000000002324</div><div class="tx" style="top:27px">Dead Poets Society was originally in the</div><div class="tx" style="top:46px">following language: English</div></div>
<div class="it" style="top:457px;height:49px"><div class="ch g">a 0.99</div><div class="ti">trex_groundtruth:000000000002380</div><div class="tx" style="top:27px">WordPerfect was developed by: Corel</div></div>
<div class="it" style="top:515px;height:68px"><div class="ch g">a 0.99</div><div class="ti">trex_groundtruth:000000000002388</div><div class="tx" style="top:27px">Associated Press has headquarters in: New</div><div class="tx" style="top:46px">York</div></div>
<div class="it" style="top:591px;height:68px"><div class="ch g">a 0.98</div><div class="ti">trex_groundtruth:000000000003160</div><div class="tx" style="top:27px">Michael Johnson is a citizen of the following</div><div class="tx" style="top:46px">country: United States</div></div>
<div class="it" style="top:668px;height:60px"><div class="ch w">a 0.03</div><div class="ti">trex_groundtruth:000000000003191</div><div class="tx" style="top:27px">Théodore Steeg had the following native</div></div>

<div style="left:333px;top:36px;width:17px;height:675px;background:#f1f1f1"></div>
<div style="left:335px;top:83px;width:13px;height:95px;background:#c1c1c1"></div>
<div style="left:337px;top:40px;font-size:9px;color:#777">▲</div>

<div class="lb" style="left:374px;top:22px">Example ID</div><div style="left:521px;top:22px">trex_groundtruth:000000000001410</div>
<div class="lb" style="left:374px;top:53px">Prompt</div><div style="left:521px;top:53px">Vuelta a Burgos is associated with the following sport:</div>
<div class="lb" style="left:374px;top:83px">Prediction</div><div style="left:521px;top:83px">Cycling (8B model confidence = 0.45)</div>
<div class="lb" style="left:374px;top:113px">Ground Truth</div><div style="left:521px;top:113px;color:#aaa;font-style:italic">undefined</div>
<div class="lb" style="left:374px;top:144px">Relation</div><div style="left:521px;top:144px">sport</div>
<div class="lb" style="left:374px;top:175px">C4 Fact Frequency</div><div style="left:521px;top:175px">113 (bucket 2)</div>
<div class="lb" style="left:374px;top:205px">Has TREX Sentence</div><div style="left:521px;top:205px;color:#aaa;font-style:italic">undefined</div>
<div class="lb" style="left:1008px;top:22px">8B Model Samples ⇕</div>
<div style="left:1008px;top:48px">Cycling, Cycling, Road</div>
<div style="left:1008px;top:67px">cycling, Cycling, Cycling,</div>
<div style="left:1008px;top:86px">Cycling, Vuelta a Burgos,</div>
<div style="left:1008px;top:104px">cycling, Cycling, Tennis,</div>
<div style="left:1008px;top:123px">Road, Professional</div>
<div style="left:1008px;top:142px">Cycling, Basketball,</div>
<div style="left:1008px;top:161px">Basketball, Road,</div>
<div style="left:1008px;top:180px">Basketball, Cycling, BMX,</div>
<div style="left:1008px;top:199px">Basketball, Cycling</div>

<div style="left:370px;top:250px;width:818px;height:2px;background:#d0d0d0"></div>
<div class="lb" style="left:371px;top:263px;font-size:16px;line-height:16px">Retrieved</div>
<div class="lb" style="left:371px;top:286px;font-size:16px;line-height:16px">Proponents</div>
<div style="left:495px;top:281px">By AIS score:</div>
<div class="chip" style="left:623px;background:#5cb860">0.80</div>
<div class="chip" style="left:672px;background:#eef7ee">0.08</div>
<div class="chip" style="left:720px;background:#eef7ee">0.07</div>
<div class="chip" style="left:770px;background:#3d9c47">0.90</div>
<div class="chip" style="left:820px;background:#fff">0.02</div>
<div class="chip" style="left:870px;background:#f6fbf6">0.05</div>
<div class="chip" style="left:918px;background:#eef7ee">0.09</div>
<div class="chip" style="left:968px;background:#5cb860">0.77</div>
<div class="chip" style="left:1018px;background:#fff">0.03</div>
<div class="chip" style="left:1067px;background:#fff">0.01</div>
<div style="left:1140px;top:280px;color:#666;font-size:16px">⤒ ⤓</div>
<div style="left:370px;top:314px;width:818px;height:2px;background:#d0d0d0"></div>

<div class="card" style="left:372px;top:324px;width:794px;height:259px">
<div class="lb ct" style="left:12px;top:14px">Rank</div><div class="ct" style="left:120px;width:64px;text-align:right;top:14px">0</div><div class="lb ct" style="left:207px;top:14px">Text</div>
<div class="lb ct" style="left:12px;top:45px">TDA Score</div><div class="ct" style="left:120px;width:64px;text-align:right;top:45px">0.0326</div>
<div class="lb ct" style="left:12px;top:133px">Correct?</div><div class="ct" style="left:120px;width:64px;text-align:right;top:133px">N/A</div>
<div class="ct" style="left:207px;top:43px">Stage 2 of the Vuelta a Burgos (163 km) saw a fast and nervous final with a finish in</div>
<div class="ct" style="left:207px;top:62px">a small town of Castrojeriz. Astana's Nikita Stalnov did a good sprint and finished</div>
<div class="ct" style="left:207px;top:81px">12th.</div>
<div class="ct" style="left:207px;top:99px">After a cruel final climb of 29 kilometers to the finish at Sveti Juri, the Young Kazakh</div>
<div class="ct" style="left:207px;top:118px">rider Yevgeniy Gidich finished third behind winner Kanstantsin Siutsou and runner up</div>
<div class="ct" style="left:207px;top:137px">Pieter Weening.</div>
<div class="ct" style="left:207px;top:156px">It was one of the longest stages of the Tour de France: the peloton passed 216 km</div>
<div class="ct" style="left:207px;top:175px">from Vesoul to Troyes. The riders had to challenge not only with the distance, but</div>
<div class="ct" style="left:207px;top:193px">also with the hot weather with the temperatures over 36°C.</div>
<div style="left:9px;top:222px;width:178px;height:26px;background:#5cb865;border-radius:3px"></div>
<div class="ct" style="left:12px;top:229px;color:#1c3b1f">AIS Score</div><div class="ct" style="left:120px;width:64px;text-align:right;top:229px;color:#1c3b1f">0.7983</div>
</div>

<div class="card" style="left:372px;top:603px;width:794px;height:200px">
<div class="lb ct" style="left:12px;top:11px">Rank</div><div class="ct" style="left:120px;width:64px;text-align:right;top:11px">1</div><div class="lb ct" style="left:207px;top:11px">Text</div>
<div class="lb ct" style="left:12px;top:42px">TDA Score</div><div class="ct" style="left:120px;width:64px;text-align:right;top:42px">0.0301</div>
<div class="lb ct" style="left:12px;top:80px">Correct?</div><div class="ct" style="left:120px;width:64px;text-align:right;top:80px">N/A</div>
<div class="ct" style="left:207px;top:42px">Vuelta Dillon is back for 2016!</div>
<div class="ct" style="left:207px;top:61px">Widespread Panic tribute band Thin Air! It's the best cycling deal in the state and</div>
<div class="ct" style="left:207px;top:80px">there is no finer place to ride in August than Dillon, Colorado!</div>
</div>

<div style="left:1171px;top:323px;width:16px;height:388px;background:#f1f1f1"></div>
<div style="left:1173px;top:343px;width:12px;height:75px;background:#c1c1c1"></div>
<div style="left:1174px;top:326px;font-size:9px;color:#999">▲</div>
</div>

</body></html>
